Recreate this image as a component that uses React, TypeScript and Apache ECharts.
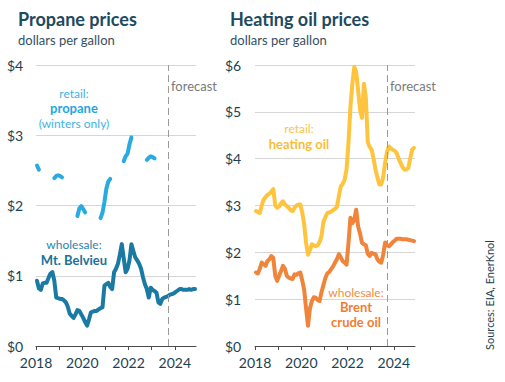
import React, { useEffect, useRef } from "react";
import * as echarts from "echarts";

// Monthly values, Jan 2018 – Nov 2024 (dollars per gallon)
const START_YEAR = 2018;
const FORECAST_START = 2023.71;
const yearTicks = [2018, 2019, 2020, 2021, 2022, 2023, 2024];
const yearLabels = [2018, 2020, 2022, 2024];

const propaneWholesale = [
  0.93, 0.82, 0.80, 0.89, 0.90, 0.90, 0.97, 1.03, 1.05, 0.93, 0.69, 0.68,
  0.67, 0.67, 0.65, 0.62, 0.56, 0.46, 0.43, 0.40, 0.45, 0.51, 0.50, 0.45,
  0.40, 0.34, 0.29, 0.38, 0.48, 0.49, 0.50, 0.50, 0.52, 0.54, 0.55, 0.86,
  0.88, 0.90, 0.84, 0.81, 1.05, 1.10, 1.17, 1.30, 1.45, 1.25, 1.05, 1.10,
  1.22, 1.45, 1.35, 1.26, 1.22, 1.17, 1.10, 0.98, 0.88, 0.81, 0.69, 0.83,
  0.80, 0.78, 0.76, 0.62, 0.60, 0.67, 0.69, 0.70, 0.71, 0.73, 0.74, 0.75,
  0.77, 0.79, 0.81, 0.81, 0.80, 0.80, 0.80, 0.81, 0.80, 0.81, 0.81,
];

const N = null;
const propaneRetail = [
  2.57, 2.51, N, N, N, N, N, N, N, 2.39, 2.42, 2.43,
  2.42, 2.40, N, N, N, N, N, N, N, 1.85, 1.96, 1.99,
  1.95, 1.90, N, N, N, N, N, N, N, 1.82, 1.90, 2.05,
  2.24, 2.34, 2.38, N, N, N, N, N, N, 2.63, 2.70, 2.74,
  2.87, 2.97, N, N, N, N, N, N, N, 2.65, 2.68, 2.70,
  2.69, 2.67, N, N, N, N, N, N, N, N, N, N,
  N, N, N, N, N, N, N, N, N, N, N,
];

const heatingOil = [
  2.88, 2.86, 2.84, 3.00, 3.13, 3.18, 3.23, 3.25, 3.30, 3.35, 3.00, 2.95,
  2.98, 3.05, 3.09, 3.02, 2.99, 2.95, 2.90, 2.88, 2.95, 3.00, 3.02, 3.02,
  2.85, 2.60, 2.20, 1.95, 2.05, 2.17, 2.15, 2.13, 2.15, 2.22, 2.35, 2.65,
  2.75, 2.84, 2.85, 2.87, 2.90, 2.93, 2.97, 3.20, 3.41, 3.46, 3.55, 3.77,
  4.35, 5.10, 5.60, 5.96, 5.85, 5.45, 5.05, 4.87, 5.60, 5.30, 4.35, 4.25,
  4.19, 4.00, 3.77, 3.60, 3.45, 3.45, 3.60, 3.91, 4.15, 4.26, 4.22, 4.19,
  4.17, 4.12, 4.00, 3.91, 3.82, 3.77, 3.77, 3.80, 4.00, 4.19, 4.23,
];

const brentCrude = [
  1.57, 1.55, 1.65, 1.78, 1.75, 1.71, 1.82, 1.85, 1.92, 1.88, 1.50, 1.39,
  1.50, 1.60, 1.71, 1.65, 1.50, 1.46, 1.44, 1.43, 1.53, 1.52, 1.55, 1.57,
  1.40, 1.20, 0.80, 0.43, 0.80, 0.96, 1.04, 1.03, 0.98, 0.96, 1.15, 1.30,
  1.45, 1.55, 1.58, 1.64, 1.70, 1.78, 1.85, 1.96, 1.90, 1.81, 1.78, 1.74,
  2.20, 2.74, 2.62, 2.70, 2.91, 2.55, 2.40, 2.20, 2.17, 2.15, 1.97, 1.92,
  1.99, 1.97, 1.96, 1.85, 1.80, 1.78, 1.95, 2.21, 2.15, 2.13, 2.17, 2.22,
  2.25, 2.29, 2.29, 2.29, 2.28, 2.28, 2.28, 2.27, 2.26, 2.25, 2.24,
];

const X_MAX = START_YEAR + propaneWholesale.length / 12;

const FONT = 'Lato, "Noto Sans", sans-serif';
const DARK = "#1c3f52";
const TITLE = "#1d4a5e";

const toPairs = (arr: (number | null)[]) =>
  arr.map((v, i) => [START_YEAR + (i + 0.5) / 12, v == null ? "-" : v]);

function text(
  str: string,
  x: number,
  y: number,
  fill: string,
  size: number,
  weight: string = "normal",
  align: string = "center",
  extra: any = {}
) {
  return {
    type: "text",
    x,
    y,
    ...extra,
    style: {
      text: str,
      fill,
      font: `${weight} ${size}px ${FONT}`,
      textAlign: align,
      textVerticalAlign: "middle",
      align,
      verticalAlign: "middle",
    },
  };
}

// multi-line annotation as one rich text block
function note(
  lines: { t: string; bold?: boolean }[],
  x: number,
  y: number,
  light: string,
  strong: string
) {
  const str = lines.map((l) => `{${l.bold ? "b" : "a"}|${l.t}}`).join("\n");
  return {
    type: "text",
    x,
    y,
    style: {
      text: str,
      textAlign: "center",
      textVerticalAlign: "middle",
      align: "center",
      verticalAlign: "middle",
      rich: {
        a: {
          fill: light,
          color: light,
          fontFamily: FONT,
          fontSize: 12,
          lineHeight: 15,
          align: "center",
        },
        b: {
          fill: strong,
          color: strong,
          fontFamily: FONT,
          fontSize: 13,
          fontWeight: "bold",
          lineHeight: 15,
          align: "center",
        },
      },
    },
  };
}

export default function App() {
  const ref = useRef<HTMLDivElement>(null);

  useEffect(() => {
    document.body.style.margin = "0";
    if (!ref.current) return;
    const chart = echarts.init(ref.current, undefined, { renderer: "svg" });

    const xAxisBase = (gridIndex: number) => ({
      type: "value",
      gridIndex,
      min: START_YEAR,
      max: X_MAX,
      interval: 1,
      splitLine: { show: false },
      axisLine: { show: true, lineStyle: { color: "#4a4a4a", width: 1 } },
      axisTick: {
        show: true,
        length: 4,
        customValues: yearTicks,
        lineStyle: { color: "#4a4a4a" },
      },
      axisLabel: {
        customValues: yearLabels,
        color: DARK,
        fontFamily: FONT,
        fontSize: 14,
        margin: 9,
        formatter: (v: number) => String(Math.round(v)),
      },
    });

    const yAxisBase = (gridIndex: number, max: number) => ({
      type: "value",
      gridIndex,
      min: 0,
      max,
      interval: 1,
      axisLine: { show: false },
      axisTick: { show: false },
      splitLine: { lineStyle: { color: "#d6d6d6", width: 1 } },
      axisLabel: {
        color: DARK,
        fontFamily: FONT,
        fontSize: 14,
        align: "left",
        margin: gridIndex === 0 ? 29 : 30,
        formatter: (v: number) => "$" + v,
      },
    });

    const forecastLine = {
      silent: true,
      symbol: "none",
      label: { show: false },
      lineStyle: { color: "#9a9a9a", type: [7, 4], width: 1 },
      data: [{ xAxis: FORECAST_START }],
    };

    const lineSeries = (
      name: string,
      data: (number | null)[],
      color: string,
      idx: number,
      extra: any = {}
    ) => ({
      name,
      type: "line",
      xAxisIndex: idx,
      yAxisIndex: idx,
      data: toPairs(data),
      showSymbol: false,
      symbol: "none",
      connectNulls: false,
      lineStyle: { color, width: 4, cap: "round", join: "round" },
      z: 3,
      ...extra,
    });

    chart.setOption({
      animation: false,
      grid: [
        { left: 36, top: 65, width: 160, height: 281 },
        { left: 255, top: 65, width: 160, height: 281 },
      ],
      xAxis: [xAxisBase(0), xAxisBase(1)],
      yAxis: [yAxisBase(0, 4), yAxisBase(1, 6)],
      series: [
        lineSeries("Mt. Belvieu", propaneWholesale, "#1a7aa3", 0, {
          markLine: forecastLine,
        }),
        lineSeries("propane retail", propaneRetail, "#29abe2", 0),
        lineSeries("Brent crude oil", brentCrude, "#f0843a", 1, {
          markLine: forecastLine,
        }),
        lineSeries("heating oil", heatingOil, "#fec43e", 1),
      ],
      graphic: [
        text("Propane prices", 18, 19, TITLE, 18, "bold", "left"),
        text("dollars per gallon", 18, 40, "#34505f", 13, "normal", "left"),
        text("Heating oil prices", 230, 19, TITLE, 18, "bold", "left"),
        text("dollars per gallon", 230, 40, "#34505f", 13, "normal", "left"),
        text("forecast", 171, 86, "#7a7a7a", 13, "normal", "left"),
        text("forecast", 390, 86, "#7a7a7a", 13, "normal", "left"),
        note(
          [{ t: "retail:" }, { t: "propane", bold: true }, { t: "(winters only)" }],
          74,
          108,
          "#3db4e6",
          "#1ea7e0"
        ),
        note(
          [{ t: "wholesale:" }, { t: "Mt. Belvieu", bold: true }],
          74,
          252,
          "#2a86ad",
          "#1a729b"
        ),
        note(
          [{ t: "retail:" }, { t: "heating oil", bold: true }],
          299,
          136,
          "#fcc445",
          "#f9bd35"
        ),
        note(
          [{ t: "wholesale:" }, { t: "Brent", bold: true }, { t: "crude oil", bold: true }],
          356,
          307,
          "#f28c44",
          "#ee7e33"
        ),
        text("Sources: EIA, EnerKnol", 489, 295, DARK, 11, "normal", "center", {
          rotation: Math.PI / 2,
        }),
      ],
    });

    return () => chart.dispose();
  }, []);

  return <div ref={ref} style={{ width: 505, height: 382 }} />;
}
